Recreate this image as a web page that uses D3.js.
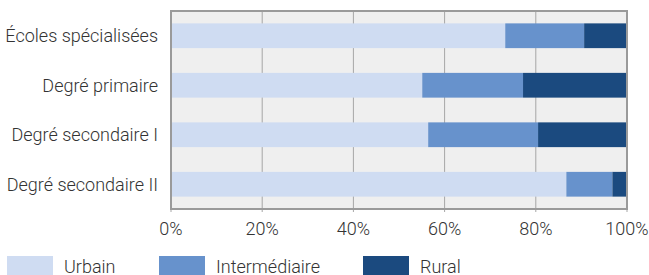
<!DOCTYPE html>
<html>
<head>
<meta charset="utf-8">
<script src="https://cdn.jsdelivr.net/npm/d3@7"></script>
<style>
  body { margin: 0; background: #fff; }
  svg text { font-family: Roboto, "Noto Sans", sans-serif; font-weight: 300; fill: #333; }
</style>
</head>
<body>
<svg id="chart" width="649" height="275"></svg>
<script>
const categories = ["Écoles spécialisées", "Degré primaire", "Degré secondaire I", "Degré secondaire II"];
const seriesNames = ["Urbain", "Intermédiaire", "Rural"];
const urbain = [73.3, 55.1, 56.4, 86.7];
const intermediaire = [17.3, 22.1, 24.1, 10.1];
const rural = [9.4, 22.8, 19.5, 3.2];
const xTicks = [0, 20, 40, 60, 80, 100];
const colors = ["#cfdcf2", "#6792cc", "#1b4a7f"];

const svg = d3.select("#chart");
const margin = {top: 11, right: 22, bottom: 66, left: 171};
const width = 649 - margin.left - margin.right,
    height = 275 - margin.top - margin.bottom;

const g = svg.append("g").attr("transform", `translate(${margin.left},${margin.top})`);

const x = d3.scaleLinear().domain([0, 100]).range([0, width]);
const y = d3.scaleBand().domain(categories).range([0, height]).paddingInner(0.5).paddingOuter(0.25);

// background
g.append("rect").attr("width", width).attr("height", height).attr("fill", "#efefef");

// gridlines
g.selectAll(".grid").data(xTicks).enter().append("line")
    .attr("x1", d => x(d)).attr("x2", d => x(d))
    .attr("y1", 0).attr("y2", height + 3)
    .attr("stroke", "#a6a6a6").attr("stroke-width", 1);

// stacked bars
const rows = categories.map((c, i) => ({cat: c, Urbain: urbain[i], "Intermédiaire": intermediaire[i], Rural: rural[i]}));
const stacked = d3.stack().keys(seriesNames)(rows);

g.selectAll(".series").data(stacked).enter().append("g")
    .attr("fill", (d, i) => colors[i])
  .selectAll("rect").data(d => d).enter().append("rect")
    .attr("x", d => x(d[0]))
    .attr("y", d => y(d.data.cat))
    .attr("width", d => x(d[1]) - x(d[0]))
    .attr("height", y.bandwidth());

// border
g.append("rect").attr("width", width).attr("height", height)
    .attr("fill", "none").attr("stroke", "#9a9a9a").attr("stroke-width", 2);

// y labels
g.selectAll(".ylab").data(categories).enter().append("text")
    .attr("x", -13)
    .attr("y", d => y(d) + y.bandwidth() / 2)
    .attr("dy", "0.35em")
    .attr("text-anchor", "end")
    .attr("font-size", 18)
    .text(d => d);

// x labels
g.selectAll(".xlab").data(xTicks).enter().append("text")
    .attr("x", d => x(d))
    .attr("y", height + 20)
    .attr("dy", "0.35em")
    .attr("text-anchor", "middle")
    .attr("font-size", 18)
    .text(d => d + "%");

// legend
const legendX = [7, 159, 363];
const legend = svg.selectAll(".legend").data(seriesNames).enter().append("g")
    .attr("transform", (d, i) => `translate(${legendX[i]},256)`);
legend.append("rect").attr("width", 46).attr("height", 19).attr("fill", (d, i) => colors[i]);
legend.append("text").attr("x", 57).attr("y", 11).attr("dy", "0.35em")
    .attr("font-size", 18).text(d => d);
</script>
</body>
</html>
